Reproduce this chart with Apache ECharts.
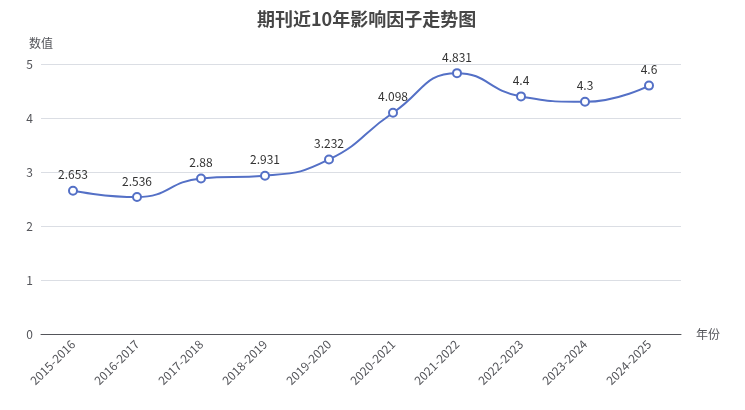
<!DOCTYPE html>
<html>
<head>
<meta charset="utf-8">
<script src="https://cdn.jsdelivr.net/npm/echarts@6/dist/echarts.min.js"></script>
<style>
  html, body { margin: 0; padding: 0; }
  #chart { width: 745px; height: 410px; }
</style>
</head>
<body>
<div id="chart"></div>
<script>
var years = ['2015-2016', '2016-2017', '2017-2018', '2018-2019', '2019-2020',
             '2020-2021', '2021-2022', '2022-2023', '2023-2024', '2024-2025'];
var impactFactor = [2.653, 2.536, 2.88, 2.931, 3.232, 4.098, 4.831, 4.4, 4.3, 4.6];

var myChart = echarts.init(document.getElementById('chart'));
var option = {
    textStyle: { fontFamily: '"Noto Sans CJK SC", "Noto Sans", sans-serif' },
    title: {
        text: '期刊近10年影响因子走势图',
        left: 252,
        top: 5,
        textStyle: { fontSize: 18, fontWeight: 'bold', color: '#464646' }
    },
    grid: { left: 41, right: 64, top: 64, bottom: 76 },
    xAxis: {
        type: 'category',
        name: '年份',
        data: years,
        axisLabel: { rotate: 45, interval: 0, fontSize: 12 }
    },
    yAxis: {
        type: 'value',
        name: '数值',
        min: 0,
        max: 5,
        interval: 1
    },
    series: [{
        type: 'line',
        data: impactFactor,
        smooth: true,
        symbol: 'emptyCircle',
        symbolSize: 8,
        lineStyle: { width: 2, color: '#5470c6' },
        itemStyle: { color: '#5470c6', borderWidth: 2 },
        label: { show: true, position: 'top', color: '#333', fontSize: 12 }
    }]
};
myChart.setOption(option);
</script>
</body>
</html>
